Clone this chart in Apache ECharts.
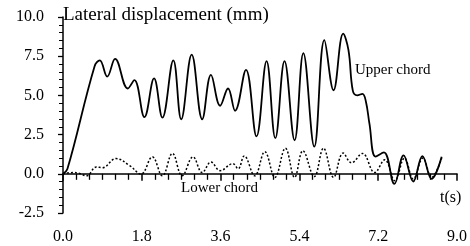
<!DOCTYPE html>
<html><head><meta charset="utf-8">
<script src="https://cdn.jsdelivr.net/npm/echarts@6/dist/echarts.min.js"></script>
<style>html,body{margin:0;padding:0;background:#fff}#c{width:470px;height:246px}</style>
</head><body><div id="c"></div>
<script>
var upperT = [0, 0.1, 0.72, 0.84, 1.01, 1.19, 1.48, 1.63, 1.86, 2.08, 2.27, 2.52, 2.70, 2.94, 3.18, 3.38, 3.59, 3.77, 3.93, 4.18, 4.42, 4.65, 4.85, 5.06, 5.29, 5.49, 5.74, 5.97, 6.18, 6.40, 6.52, 6.62, 6.72, 6.84, 6.92, 7.00, 7.14, 7.33, 7.57, 7.78, 8.00, 8.21, 8.42, 8.65];
var upperV = [0, 0.3, 6.85, 7.24, 6.2, 7.33, 5.44, 5.98, 3.62, 6.08, 3.58, 7.24, 3.48, 7.6, 3.48, 6.31, 4.34, 5.44, 4.02, 6.63, 2.39, 7.19, 2.27, 7.19, 2.14, 7.7, 1.73, 8.53, 5.33, 8.94, 7.9, 5.3, 5.0, 5.1, 4.6, 3.2, 1.1, 1.37, -0.64, 1.18, -0.49, 1.13, -0.33, 1.08];
var lowerT = [0, 0.23, 0.38, 0.54, 0.76, 0.9, 1.21, 1.52, 1.78, 2.04, 2.27, 2.5, 2.72, 2.97, 3.18, 3.38, 3.59, 3.88, 4.0, 4.14, 4.38, 4.61, 4.84, 5.08, 5.29, 5.48, 5.74, 5.95, 6.18, 6.40, 6.59, 6.84, 7.12, 7.35, 7.58, 7.8, 8.0, 8.22, 8.42, 8.65];
var lowerV = [0, 0.08, 0.02, -0.13, 0.43, 0.39, 0.97, 0.53, -0.02, 1.08, -0.13, 1.3, -0.13, 1.08, 0.08, 0.75, 0.2, 0.65, 0.32, 1.14, -0.13, 1.41, -0.23, 1.63, -0.23, 1.47, -0.18, 1.63, -0.23, 1.32, 0.7, 1.3, 0.08, 0.9, -0.44, 1.0, -0.33, 1.0, -0.23, 1.0];
var xTicks = [0, 9, 1.8];
var yTicks = [-2.5, 10, 2.5];
var labels = {title: 'Lateral displacement (mm)', upper: 'Upper chord', lower: 'Lower chord', xname: 't(s)'};

function zip(a, b) { return a.map(function (t, i) { return [t, b[i]]; }); }
var ff = '"Liberation Serif", "Times New Roman", serif';
var chart = echarts.init(document.getElementById('c'), null, {renderer: 'canvas'});
chart.setOption({
  animation: false,
  backgroundColor: '#fff',
  grid: {left: 63, right: 10, top: 17, bottom: 33},
  xAxis: {
    type: 'value', min: xTicks[0], max: xTicks[1], interval: xTicks[2],
    axisLine: {lineStyle: {color: '#000', width: 1.5}},
    axisTick: {show: true, length: 7, lineStyle: {color: '#000', width: 1.5}},
    minorTick: {show: true, splitNumber: 6, length: 6, lineStyle: {color: '#000', width: 1.3}},
    splitLine: {show: false},
    axisLabel: {color: '#000', fontFamily: ff, fontSize: 16, margin: 16, formatter: function (v) { return v.toFixed(1); }}
  },
  yAxis: {
    type: 'value', min: yTicks[0], max: yTicks[1], interval: yTicks[2],
    axisLine: {show: true, lineStyle: {color: '#000', width: 1.5}},
    axisTick: {show: true, length: 5, lineStyle: {color: '#000', width: 1.3}},
    minorTick: {show: true, splitNumber: 5, length: 4, lineStyle: {color: '#000', width: 1}},
    splitLine: {show: false},
    axisLabel: {color: '#000', fontFamily: ff, fontSize: 16, margin: 19, formatter: function (v) { return v.toFixed(1); }}
  },
  series: [
    {type: 'line', data: zip(upperT, upperV), smooth: 0.4, symbol: 'none',
     lineStyle: {color: '#000', width: 1.8}},
    {type: 'line', data: zip(lowerT, lowerV), smooth: 0.4, symbol: 'none',
     lineStyle: {color: '#000', width: 1.5, type: [2, 2]}}
  ],
  graphic: [
    {type: 'text', left: 63, top: 6, style: {text: labels.title, font: '19px ' + ff, fill: '#000'}},
    {type: 'text', left: 355, top: 63, style: {text: labels.upper, font: '15px ' + ff, fill: '#000'}},
    {type: 'text', left: 181, top: 181, style: {text: labels.lower, font: '15px ' + ff, fill: '#000'}},
    {type: 'text', left: 440, top: 190, style: {text: labels.xname, font: '16px ' + ff, fill: '#000'}}
  ]
});
</script></body></html>
